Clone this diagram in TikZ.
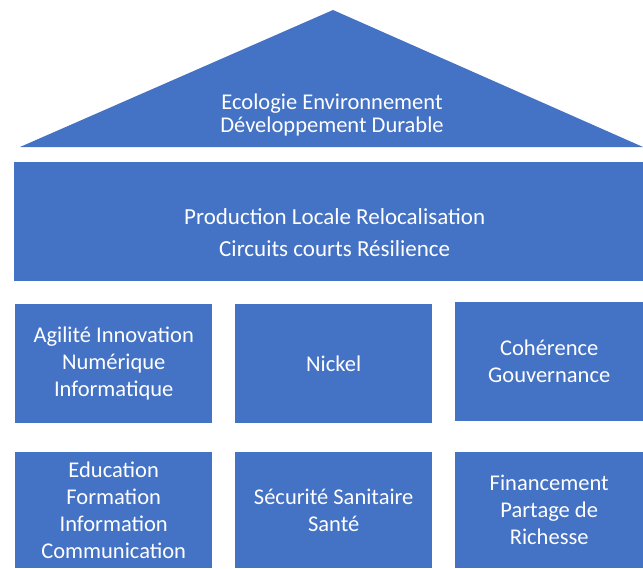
\documentclass[tikz,border=0pt]{standalone}
\usepackage{fontspec}
\setmainfont{Carlito}
\definecolor{blocblue}{HTML}{4472C4}
\begin{document}
\begin{tikzpicture}[x=1pt,y=-1pt,
    bloc/.style={fill=blocblue,text=white,align=center,inner sep=0pt,
        anchor=north west,font=\fontsize{22.5}{27}\selectfont},
    texte/.style={text=white,align=center,inner sep=0pt}]
    % Frame
    \useasboundingbox (0,0) rectangle (643,568);

    % Roof
    \fill[blocblue] (20,147) -- (333,10) -- (643,147) -- cycle;
    \node[texte,font=\fontsize{22.5}{23}\selectfont] (toit) at (332,115)
        {Ecologie Environnement\\D\'eveloppement Durable};

    % Band
    \node[bloc,minimum width=629pt,minimum height=119pt] (bande) at (14,162) {};
    \node[texte,font=\fontsize{23}{32}\selectfont] (bandetexte)
        at ([xshift=6pt,yshift=-11pt]bande.center)
        {Production Locale Relocalisation\\Circuits courts R\'esilience};

    % First row of pillars
    \node[bloc,minimum width=197pt,minimum height=119pt] (agilite) at (15,304)
        {Agilit\'e Innovation\\Num\'erique\\Informatique};
    \node[bloc,minimum width=197pt,minimum height=119pt] (nickel) at (235,304)
        {Nickel};
    \node[bloc,minimum width=188pt,minimum height=119pt] (coherence) at (455,302)
        {Coh\'erence\\Gouvernance};

    % Second row of pillars
    \node[bloc,minimum width=197pt,minimum height=116pt] (education) at (15,452)
        {Education\\Formation\\Information\\Communication};
    \node[bloc,minimum width=197pt,minimum height=116pt] (securite) at (235,452)
        {S\'ecurit\'e Sanitaire\\Sant\'e};
    \node[bloc,minimum width=188pt,minimum height=116pt] (financement) at (455,452)
        {Financement\\Partage de\\Richesse};
\end{tikzpicture}
\end{document}
